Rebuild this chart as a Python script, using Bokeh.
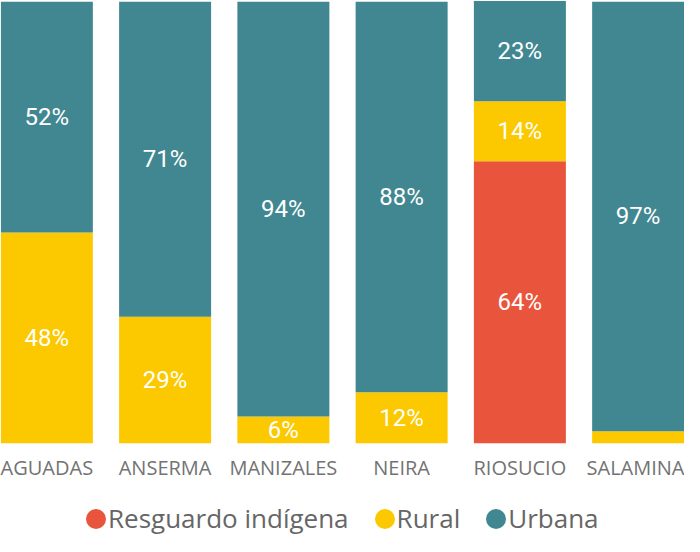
from bokeh.plotting import figure
from bokeh.layouts import column
from bokeh.models import ColumnDataSource, FixedTicker, Legend, LegendItem, Range1d
from bokeh.core.properties import value
from bokeh.embed import file_html
from bokeh.resources import INLINE

# ---- data ----
municipios = ["AGUADAS", "ANSERMA", "MANIZALES", "NEIRA", "RIOSUCIO", "SALAMINA"]
series = ["Resguardo indígena", "Rural", "Urbana"]
resguardo = [0, 0, 0, 0, 63.9, 0]
rural = [47.8, 28.7, 6.1, 11.6, 13.6, 2.8]
urbana = [52.2, 71.3, 93.9, 88.4, 22.7, 97.2]
colors = ["#E9553C", "#FCC800", "#418791"]

BAR_W = 0.778
xs = list(range(len(municipios)))
keys = ["resguardo", "rural", "urbana"]
source = ColumnDataSource(dict(x=xs, resguardo=resguardo, rural=rural, urbana=urbana))

p = figure(width=684, height=488, output_backend="svg", toolbar_location=None,
           x_range=Range1d(-BAR_W / 2 - 0.003, xs[-1] + BAR_W / 2 + 0.003),
           y_range=Range1d(0, 100.3),
           min_border_left=0, min_border_right=0, min_border_top=0, min_border_bottom=45)
p.outline_line_color = None
p.xgrid.visible = False
p.ygrid.visible = False
p.yaxis.visible = False

p.vbar_stack(keys, x="x", width=BAR_W, source=source, color=colors, line_color=None)

# labels in segment centres
lx, ly, lt = [], [], []
for i in xs:
    base = 0.0
    for arr in (resguardo, rural, urbana):
        v = arr[i]
        if v >= 4:
            lx.append(i)
            ly.append(base + v / 2)
            lt.append(f"{round(v)}%")
        base += v
p.text(x=lx, y=ly, text=lt, text_align="center", text_baseline="middle",
       text_color="white", text_font=value("Roboto"), text_font_size="24px")

ax = p.xaxis[0]
ax.ticker = FixedTicker(ticks=xs)
ax.major_label_overrides = {i: m for i, m in zip(xs, municipios)}
ax.axis_line_color = None
ax.major_tick_line_color = None
ax.minor_tick_line_color = None
ax.major_label_text_font = "Open Sans"
ax.major_label_text_font_size = "20px"
ax.major_label_text_color = "#737373"
ax.major_label_standoff = 4

# legend strip (circle swatches via screen-sized ellipses kept outside the view)
p2 = figure(width=684, height=48, output_backend="svg", toolbar_location=None,
            x_range=Range1d(0, 1), y_range=Range1d(0, 1),
            min_border_left=0, min_border_right=0, min_border_top=0, min_border_bottom=0)
p2.outline_line_color = None
p2.axis.visible = False
p2.grid.visible = False
items = []
for name, c in zip(series, colors):
    r = p2.ellipse(x=[-5], y=[-5], width=20, height=20, width_units="screen",
                   height_units="screen", fill_color=c, line_color=None)
    items.append(LegendItem(label=name, renderers=[r]))
legend = Legend(items=items, location=(83, 0), orientation="horizontal",
                glyph_width=25, glyph_height=25, label_standoff=0, spacing=23,
                padding=0, margin=0, border_line_color=None, background_fill_alpha=0,
                label_text_font="Open Sans", label_text_font_size="26px",
                label_text_color="#666666")
p2.add_layout(legend, "center")

layout = column(p, p2, spacing=0)
open("out.html", "w").write(file_html(layout, INLINE))
